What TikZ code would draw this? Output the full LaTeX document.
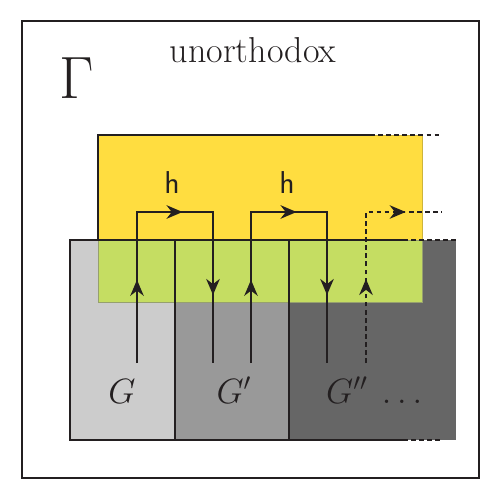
\RequirePackage{fix-cm}
\documentclass[tikz,border=0pt]{standalone}
\usetikzlibrary{arrows.meta, decorations.markings, positioning}
\definecolor{sunny}{RGB}{255,221,64}
\definecolor{lime}{RGB}{197,221,98}
\definecolor{greyA}{RGB}{204,204,204}
\definecolor{greyB}{RGB}{153,153,153}
\definecolor{greyC}{RGB}{102,102,102}
\definecolor{ink}{RGB}{35,31,32}
\tikzstyle{edge}     = [line width=1.2pt, draw=ink]
\tikzstyle{dotedge}  = [edge, dash pattern=on 2.6pt off 2pt]
\tikzstyle{tip}      = [>={Stealth[length=3.2mm,width=2.7mm]}]
\tikzstyle{hloop}    = [edge, tip, postaction={decorate}, decoration={markings,
                        mark=at position 0.22 with {\arrow{>}},
                        mark=at position 0.52 with {\arrow{>}},
                        mark=at position 0.82 with {\arrow{>}}}]
\tikzstyle{hopen}    = [dotedge, tip, postaction={decorate}, decoration={markings,
                        mark=at position 0.37 with {\arrow{>}},
                        mark=at position 0.84 with {\arrow{>}}}]
\tikzstyle{biglabel} = [font=\fontsize{20}{24}\selectfont, text=ink, inner sep=0pt]
\tikzstyle{hlabel}   = [font=\fontsize{18}{22}\selectfont\sffamily, text=ink, inner sep=0pt]

\begin{document}
\begin{tikzpicture}[x=0.02cm, y=-0.02cm]

\useasboundingbox (0,0) rectangle (498,491);

\fill[greyA] (70,240) rectangle (175,440);
\fill[greyB] (175,240) rectangle (289,440);
\fill[greyC] (289,240) rectangle (456,440);
\filldraw[fill=sunny, draw={rgb,255:red,205;green,180;blue,60}, line width=0.4pt] (98,135) rectangle (422,240);
\filldraw[fill=lime, draw={rgb,255:red,150;green,160;blue,110}, line width=0.4pt] (98,240) rectangle (422,302);

\draw[edge] (22,21) rectangle (479,478);

\draw[edge] (98,240) -- (98,135) -- (370,135);
\draw[dotedge] (370,135) -- (442,135);

\draw[edge] (403,240) -- (70,240) -- (70,440) -- (403,440);
\draw[edge] (175,240) -- (175,440);
\draw[edge] (289,240) -- (289,440);
\draw[dotedge] (403,240) -- (456,240);
\draw[dotedge] (403,440) -- (442,440);

\node[biglabel, font=\fontsize{34}{40}\selectfont, anchor=base] (Gamma) at (77,98) {$\Gamma$};
\node[biglabel, font=\fontsize{20.5}{24}\selectfont, anchor=base] (title) at (253,62) {unorthodox};

\coordinate (A1) at (137,363);
\coordinate (A2) at (137,212);
\coordinate (A3) at (213,212);
\coordinate (A4) at (213,363);
\coordinate (B1) at (251,363);
\coordinate (B2) at (251,212);
\coordinate (B3) at (327,212);
\coordinate (B4) at (327,363);
\coordinate (C1) at (366,363);
\coordinate (C2) at (366,212);
\coordinate (C3) at (442,212);

\draw[hloop] (A1) -- (A2) -- (A3) -- (A4);
\draw[hloop] (B1) -- (B2) -- (B3) -- (B4);
\draw[hopen] (C1) -- (C2) -- (C3);

\node[hlabel, anchor=base] (h1) at (172,193) {h};
\node[hlabel, anchor=base] (h2) at (287,193) {h};

\node[biglabel, anchor=base] (G1) at (122,403) {$G$};
\node[biglabel, anchor=base] (G2) at (234,403) {$G'$};
\node[biglabel, anchor=base] (G3) at (347,403) {$G''$};
\node[biglabel, anchor=base] (dots) at (402,403) {$\ldots$};

\end{tikzpicture}
\end{document}
